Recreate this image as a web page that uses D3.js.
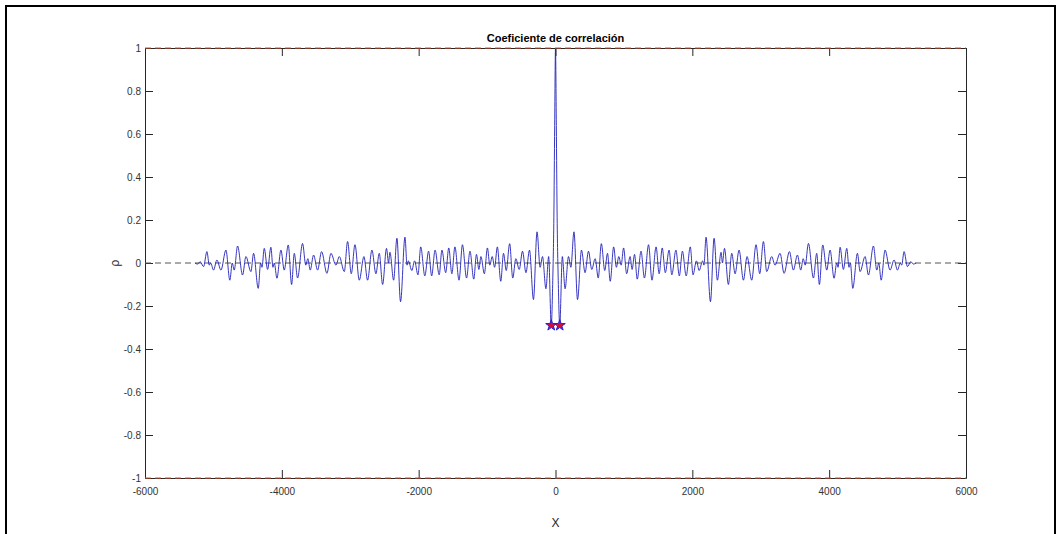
<!DOCTYPE html>
<html><head><meta charset="utf-8">
<script src="https://cdn.jsdelivr.net/npm/d3@7"></script>
<style>
body{margin:0;background:#fff}
svg{display:block}
text{font-family:"Liberation Sans",Arial,Helvetica,sans-serif}
</style></head>
<body><svg id="c" width="1061" height="534"></svg>
<script>
// ---- data (right half of a symmetric autocorrelation) ----
const lagRight = [0,12,24,40,62,100,140,190,225,270,322,380,432,482,530,580,625,670,720,760,800,850,890,925,960,995,1040,1090,1120,1155,1195,1250,1300,1360,1410,1470,1515,1560,1605,1660,1700,1760,1810,1855,1910,1970,2010,2060,2100,2150,2170,2200,2265,2318,2366,2420,2440,2470,2527,2576,2625,2683,2747,2800,2868,2931,2985,3039,3087,3160,3209,3282,3341,3419,3477,3536,3585,3620,3650,3697,3770,3818,3857,3906,3965,4013,4072,4110,4130,4160,4208,4257,4290,4310,4345,4413,4452,4525,4574,4647,4696,4725,4760,4817,4890,4949,4998,5040,5060,5095,5144,5193,5232,5270];
const rhoRight = [1.0,0.64,0.21,-0.08,-0.29,0.03,-0.12,0.03,-0.02,0.145,-0.17,0.06,-0.045,0.055,-0.03,0.02,-0.07,0.09,-0.035,0.045,-0.085,0.075,-0.02,0.03,-0.01,0.07,-0.05,0.03,-0.03,0.04,-0.075,0.055,-0.07,0.085,-0.08,0.075,-0.05,0.07,-0.045,0.06,-0.055,0.06,-0.06,0.055,-0.06,0.075,-0.055,0.01,-0.035,0.01,-0.01,0.12,-0.18,0.115,-0.08,0.05,0.0,0.068,-0.10,0.045,-0.05,0.06,-0.08,0.03,-0.08,0.085,-0.05,0.10,-0.04,0.03,-0.01,0.045,-0.048,0.053,-0.033,0.037,-0.033,0.02,-0.01,0.091,-0.07,0.045,-0.10,0.084,-0.033,0.06,-0.071,0.0,-0.02,0.073,-0.03,0.068,-0.02,0.0,-0.118,0.045,-0.04,0.03,-0.056,0.079,-0.033,0.0,-0.08,0.06,-0.033,0.014,-0.033,0.0,-0.01,0.053,-0.017,0.006,-0.005,0.0];
const starLag = [-62, 62];
const starRho = [-0.29, -0.29];
const xTicks = [-6000,-4000,-2000,0,2000,4000,6000];
const yTicks = [-1,-0.8,-0.6,-0.4,-0.2,0,0.2,0.4,0.6,0.8,1];
const limitLines = [1, -1];
const titleText = "Coeficiente de correlación";
const xLabel = "X", yLabel = "ρ";

// full symmetric series
const series = [];
for (let i = lagRight.length - 1; i >= 1; i--) series.push([-lagRight[i], rhoRight[i]]);
for (let i = 0; i < lagRight.length; i++) series.push([lagRight[i], rhoRight[i]]);

const svg = d3.select("#c");
const L=145, R=966, T=48, B=478;
const x = d3.scaleLinear().domain([-6000,6000]).range([L,R]);
const y = d3.scaleLinear().domain([-1,1]).range([B,T]);
const axisColor = "#262626";
const fmt = d => String(+(+d).toFixed(1));

// outer frame
svg.append("rect").attr("x",6).attr("y",6).attr("width",1049).attr("height",600)
  .attr("fill","none").attr("stroke","#000").attr("stroke-width",2);

// axes
function styleAxis(g){
  g.selectAll("path.domain").attr("stroke",axisColor).attr("stroke-width",1);
  g.selectAll(".tick line").attr("stroke",axisColor).attr("stroke-width",1);
  g.selectAll(".tick text").attr("fill","#333").attr("font-size",10);
}
svg.append("g").attr("transform",`translate(0,${B})`)
  .call(d3.axisBottom(x).tickValues(xTicks).tickSize(-8).tickSizeOuter(0).tickPadding(10).tickFormat(fmt))
  .call(styleAxis);
svg.append("g").attr("transform",`translate(0,${T})`)
  .call(d3.axisTop(x).tickValues(xTicks).tickSize(-8).tickSizeOuter(0).tickFormat(""))
  .call(styleAxis);
svg.append("g").attr("transform",`translate(${L},0)`)
  .call(d3.axisLeft(y).tickValues(yTicks).tickSize(-8).tickSizeOuter(0).tickPadding(4).tickFormat(fmt))
  .call(styleAxis);
svg.append("g").attr("transform",`translate(${R},0)`)
  .call(d3.axisRight(y).tickValues(yTicks).tickSize(-8).tickSizeOuter(0).tickFormat(""))
  .call(styleAxis);

// zero dashed line
svg.append("line").attr("x1",x(-6000)).attr("x2",x(6000)).attr("y1",y(0)).attr("y2",y(0))
  .attr("stroke","#555").attr("stroke-width",1).attr("stroke-dasharray","6,4");

// signal
const line = d3.line().x(d=>x(d[0])).y(d=>y(d[1])).curve(d3.curveMonotoneX);
svg.append("path").datum(series).attr("d",line).attr("fill","none")
  .attr("stroke","#2020b8").attr("stroke-width",0.9);

// limit lines at +-1
svg.selectAll("line.lim").data(limitLines).enter().append("line").attr("class","lim")
  .attr("x1",x(-6000)).attr("x2",x(6000)).attr("y1",d=>y(d)).attr("y2",d=>y(d))
  .attr("stroke","#e4502e").attr("stroke-width",1.1).attr("stroke-dasharray","6,4");

// stars
svg.selectAll("path.star").data(starLag.map((l,i)=>[l,starRho[i]])).enter().append("path")
  .attr("class","star")
  .attr("transform",d=>`translate(${x(d[0])},${y(d[1])})`)
  .attr("d",d3.symbol(d3.symbolStar,38))
  .attr("fill","#d0103a").attr("stroke","#2020e0").attr("stroke-width",1);

// texts
svg.append("text").attr("x",(L+R)/2).attr("y",42).attr("text-anchor","middle")
  .attr("font-size",11).attr("font-weight","bold").attr("fill","#000").text(titleText);
svg.append("text").attr("x",(L+R)/2).attr("y",527).attr("text-anchor","middle")
  .attr("font-size",12).attr("fill",axisColor).text(xLabel);
svg.append("text").attr("transform",`translate(119,${y(0)}) rotate(-90)`).attr("text-anchor","middle")
  .attr("font-size",12).attr("fill",axisColor).text(yLabel);
</script></body></html>
